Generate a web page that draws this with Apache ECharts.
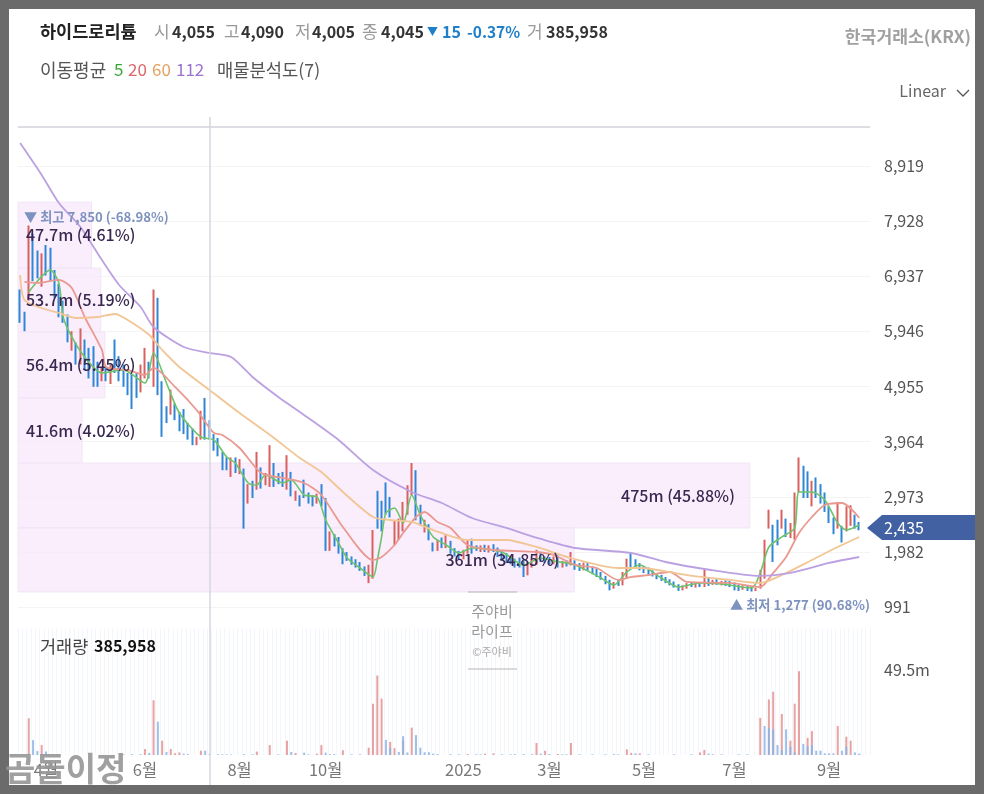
<!DOCTYPE html>
<html>
<head>
<meta charset="utf-8">
<title>하이드로리튬</title>
<style>
  html, body { margin: 0; padding: 0; background: #6b6b6b; }
  #chart { width: 984px; height: 794px; }
</style>
<script src="https://cdn.jsdelivr.net/npm/echarts@6/dist/echarts.min.js"></script>
</head>
<body>
<div id="chart"></div>
<script>
// 캔들 (2거래일 단위로 읽은 값)
var opens = [
  6600,6200,6600,7650,7300,6800,7300,7100,6950,6650,
  6350,6100,5650,5700,5450,5600,5500,5400,5300,5150,
  5250,5100,5700,5350,5200,5050,5150,5100,4900,5200,
  5350,5000,6450,4800,4500,4500,4600,4450,4300,4150,
  4100,3950,4050,4450,4250,4000,3950,3700,3580,3400,
  3600,3450,3450,2950,3200,3200,3400,3250,3200,3550,
  3300,3350,3150,3300,2950,2950,3250,3000,2950,2850,
  3150,2850,2150,2280,2150,2000,1900,1850,1800,1740,
  1680,1450,1550,2900,2600,3200,2900,2150,2350,2400,
  2700,3100,3400,2800,2350,2450,2100,2050,2150,2060,
  2150,2050,1950,1900,1980,2150,2050,2020,2080,2020,
  2040,2000,1950,1900,1820,1800,1850,1800,1600,1760,
  1800,1950,1850,1820,1800,1870,1760,1780,1750,1800,
  1720,1700,1750,1680,1620,1570,1520,1460,1340,1420,
  1400,1550,1900,1780,1720,1690,1640,1600,1570,1520,
  1490,1450,1410,1370,1310,1350,1400,1370,1410,1370,
  1500,1420,1450,1410,1440,1400,1400,1350,1330,1340,
  1320,1300,1350,1600,2450,2350,2550,2450,2550,2300,
  2250,3150,3500,3400,2950,3200,3100,2950,2750,2550,
  2450,2400,2400,2500,2650,2450
];
var highs = [
  6700,6300,7850,7700,7400,7350,7500,7450,7050,6800,
  6500,6250,5950,5750,6000,5800,5650,5680,5400,5300,
  5300,5350,5800,5500,5350,5200,5180,5200,5350,5650,
  5400,6700,6550,5050,4600,4900,4650,4500,4550,4300,
  4200,4050,4520,4750,4350,4100,4030,3780,3680,3680,
  3680,3650,3480,3200,3260,3780,3500,3400,3900,3580,
  3400,3420,3720,3420,3080,3000,3280,3050,3000,3030,
  3200,2950,2350,2300,2250,2050,1980,1900,1850,1800,
  1720,1750,2375,3080,2900,3230,2970,2550,2580,2880,
  3180,3580,3450,2830,2560,2480,2150,2200,2240,2280,
  2180,2050,2000,2020,2210,2220,2100,2100,2110,2100,
  2120,2060,2000,1960,1900,1860,1880,1830,1800,1850,
  2020,1980,1900,1890,1900,1920,1820,1830,1980,1830,
  1780,1790,1790,1720,1680,1620,1550,1480,1440,1480,
  1620,1860,1960,1850,1780,1730,1700,1650,1600,1570,
  1530,1490,1450,1400,1380,1420,1440,1440,1440,1670,
  1530,1480,1490,1460,1470,1460,1430,1390,1380,1370,
  1350,1340,1660,2200,2740,2470,2560,2740,2580,2500,
  3050,3680,3530,3430,3260,3320,3200,3050,2800,2600,
  2880,2450,2800,2820,2650,2520
];
var lows = [
  6100,5950,6500,6850,6900,6750,6950,6850,6550,6200,
  6100,5750,5600,5350,5350,5250,5100,4950,4950,5050,
  5050,5000,5200,5050,4950,4800,4550,4750,4850,5100,
  5100,4950,4800,4050,4300,4450,4350,4150,4100,4000,
  3900,3900,4000,4000,4000,3800,3700,3450,3450,3330,
  3400,3380,2400,2850,2950,3100,3120,3180,3150,3150,
  3200,3150,3100,2980,2900,2800,2950,2850,2800,2850,
  2800,2000,2000,2080,1950,1760,1820,1750,1700,1640,
  1550,1420,1500,2400,2350,2650,2600,2100,2200,2350,
  2650,3000,2550,2450,2330,2190,1990,2000,2050,2050,
  1950,1900,1850,1850,1950,1950,2000,1980,1980,1970,
  1980,1890,1850,1780,1760,1700,1700,1530,1560,1700,
  1750,1800,1780,1750,1760,1700,1700,1720,1740,1660,
  1640,1650,1640,1580,1530,1480,1400,1290,1320,1370,
  1380,1500,1700,1680,1650,1600,1570,1540,1490,1460,
  1420,1380,1340,1280,1290,1320,1350,1340,1350,1350,
  1370,1390,1390,1380,1370,1350,1290,1280,1300,1280,
  1270,1277,1320,1500,2400,1800,2100,2400,2250,2230,
  2200,3050,2950,2950,2800,2950,2850,2700,2500,2300,
  2400,2150,2350,2450,2400,2370
];
var closes = [
  6200,6000,7700,7000,7000,7100,7050,6950,6600,6300,
  6200,5800,5900,5400,5700,5350,5150,5150,5050,5250,
  5100,5300,5300,5150,5050,4900,4900,4850,5250,5500,
  5200,6500,5000,4500,4400,4750,4450,4200,4150,4050,
  3950,4000,4400,4250,4100,3900,3800,3550,3500,3600,
  3450,3580,3000,3150,3050,3650,3200,3350,3700,3250,
  3250,3250,3550,3050,3050,2850,3000,2900,2850,3000,
  2850,2150,2300,2130,2030,1800,1850,1800,1740,1680,
  1590,1680,2300,2500,2450,2750,2700,2450,2500,2800,
  3100,3450,2650,2550,2500,2250,2030,2150,2100,2230,
  2050,1950,1900,2000,2150,2050,2030,2080,2020,2040,
  2000,1950,1900,1820,1800,1760,1750,1600,1760,1810,
  1950,1850,1820,1800,1870,1740,1780,1760,1920,1720,
  1700,1760,1680,1620,1570,1520,1440,1340,1420,1400,
  1560,1820,1780,1720,1690,1640,1610,1570,1520,1490,
  1450,1410,1370,1320,1360,1400,1370,1420,1380,1620,
  1420,1450,1410,1440,1400,1380,1330,1310,1340,1310,
  1290,1320,1620,2150,2650,1900,2150,2650,2300,2450,
  2950,3600,3000,3000,3200,3000,2900,2750,2550,2350,
  2800,2200,2700,2700,2450,2435
];
var slotCount = 198;
var monthLabels = { 6: '4월', 29: '6월', 51: '8월', 71: '10월', 103: '2025', 123: '3월', 145: '5월', 166: '7월', 188: '9월' };

// 이동평균 [슬롯, 값]
var ma5 = [[2,6655],[7,7050],[9,6817],[10,6205],[12,5846],[15,5486],[19,5199],[24,5252],[29,5019],[31,5558],[34,5019],[37,4479],[42,4048],[45,3994],[48,3688],[50,3580],[53,3221],[55,3185],[57,3365],[61,3221],[63,3275],[66,3005],[69,2969],[71,2555],[74,2141],[76,1872],[79,1692],[82,1531],[83,1836],[84,2250],[85,2681],[87,2771],[89,2501],[91,3005],[93,2645],[96,2250],[99,2106],[102,1962],[105,2052],[112,1980],[117,1745],[121,1872],[124,1818],[129,1747],[135,1512],[138,1387],[141,1621],[144,1747],[149,1512],[153,1351],[158,1423],[163,1405],[170,1333],[172,1603],[174,2070],[177,2250],[180,2412],[181,3059],[184,3059],[187,2915],[190,2501],[192,2375],[195,2465]];
var ma20 = [[1,6835],[4,6817],[9,6871],[12,6727],[15,6205],[19,5612],[20,5306],[25,5252],[29,5163],[31,5289],[36,4947],[41,4533],[45,4120],[47,4084],[51,3850],[56,3401],[61,3311],[66,3221],[70,3005],[75,2430],[82,1836],[84,1890],[87,2106],[89,2321],[92,2609],[94,2699],[97,2520],[100,2412],[104,2106],[110,2016],[120,1980],[124,1926],[129,1747],[134,1692],[139,1477],[142,1531],[146,1566],[151,1620],[155,1441],[165,1423],[172,1351],[175,1603],[178,1890],[181,2321],[184,2609],[187,2825],[191,2861],[195,2592]];
var ma60 = [[0,6960],[1,6511],[5,6367],[9,6277],[13,6187],[18,6205],[22,6259],[25,6151],[30,5882],[33,5612],[37,5306],[44,4893],[51,4479],[59,4030],[65,3670],[70,3418],[75,3059],[82,2609],[86,2555],[91,2520],[96,2375],[104,2196],[113,2196],[120,2070],[128,1872],[139,1692],[144,1692],[155,1566],[165,1477],[172,1423],[178,1603],[184,1836],[190,2070],[195,2250]];
var ma112 = [[0,9334],[5,8760],[9,8255],[14,7824],[19,7230],[23,6781],[28,6385],[31,6025],[38,5666],[44,5558],[49,5486],[54,5127],[60,4767],[65,4497],[74,3994],[82,3454],[91,3059],[98,2861],[105,2591],[113,2412],[121,2214],[129,2052],[142,1962],[150,1800],[159,1674],[172,1549],[179,1603],[188,1783],[195,1890]];

// 거래량 [슬롯, 백만주]
var volRed = [[2,21.5],[5,5.8],[24,.4],[29,3.5],[31,32],[33,8.4],[35,3.5],[36,1],[37,1.5],[42,2.5],[55,2],[58,5.8],[62,8.4],[64,1.2],[69,.8],[70,5.8],[75,2.8],[81,4.3],[82,30],[83,46.5],[84,33],[86,7.7],[87,4],[89,8.4],[91,16],[104,.6],[108,.8],[110,1],[120,7],[122,2.5],[125,.6],[128,7],[141,3.3],[142,1.2],[144,1],[159,3],[158,1.5],[172,21.7],[174,32.5],[175,37],[177,24],[179,8.4],[180,30],[181,49],[183,10],[184,14],[190,17],[192,10.7],[193,8.4]];
var volBlue = [[3,8.7],[4,2.3],[6,2],[26,.5],[28,.5],[30,1.2],[32,19.5],[34,1.8],[38,.8],[39,.5],[43,2.5],[44,.6],[46,.4],[47,.4],[48,.4],[49,.3],[52,.5],[54,.4],[60,.4],[63,1.8],[66,1.4],[67,.4],[71,1.4],[72,.5],[73,.5],[77,.4],[79,.4],[85,8.8],[86,4],[88,1.8],[89,11],[90,1.5],[92,11.6],[93,4.3],[94,1.6],[95,1.6],[96,.8],[97,.6],[100,.5],[102,.4],[106,.4],[107,.4],[112,.4],[114,.4],[115,.4],[117,.5],[119,.5],[121,.8],[123,.6],[126,.4],[127,.4],[130,.4],[133,.4],[136,.4],[138,.5],[139,.4],[143,1],[146,.4],[152,.4],[156,.4],[160,.8],[161,.4],[163,.4],[167,.4],[169,.4],[173,17],[174,16],[175,15],[176,5.8],[177,3],[178,15],[179,4.8],[180,1.5],[182,6.5],[183,5.2],[184,5.8],[185,2.5],[186,2.5],[187,1],[188,1],[189,1],[191,2.5],[192,4.8],[194,1.5],[195,.8]];

// 매물분석도
var zoneLows = [7085, 5935, 4750, 3580, 2412, 1262];
var zoneHighs = [8270, 7085, 5935, 4750, 3580, 2412];
var zoneVols = [47.7, 53.7, 56.4, 41.6, 475, 361];
var zonePcts = ['4.61%', '5.19%', '5.45%', '4.02%', '45.88%', '34.85%'];

var priceTicks = { interval: 991, min: 991, max: 9621 };
var volTicks = { interval: 49.5, max: 74.25 };
var lastPrice = '2,435';

var categories = [];
for (var n = 0; n < slotCount; n++) categories.push(String(n));
var candleData = opens.map(function (o, i) { return [o, closes[i], lows[i], highs[i]]; });

var KR = '"Noto Sans CJK KR","Noto Sans",sans-serif';

function txt(x, y, text, color, size, weight, align) {
  return {
    type: 'text', x: x, y: y, z: 50, silent: true,
    style: {
      text: text, fill: color, fontFamily: KR, fontSize: size,
      fontWeight: weight || 'normal', align: align || 'left', verticalAlign: 'middle'
    }
  };
}
function seg(x1, y1, x2, y2, color, width) {
  return {
    type: 'line', z: 40, silent: true,
    shape: { x1: x1, y1: y1, x2: x2, y2: y2 },
    style: { stroke: color, lineWidth: width || 1 }
  };
}

var graphics = [
  // 흰 패널
  { type: 'rect', z: -1, silent: true, shape: { x: 9, y: 9, width: 966, height: 776 }, style: { fill: '#fff' } },
  // 헤더 1행
  txt(40, 31, '하이드로리튬', '#222', 17.5, 'bold'),
  txt(154, 32, '시', '#999', 17), txt(172, 32, '4,055', '#333', 16, 'bold'),
  txt(224, 32, '고', '#999', 17), txt(241, 32, '4,090', '#333', 16, 'bold'),
  txt(295, 32, '저', '#999', 17), txt(312, 32, '4,005', '#333', 16, 'bold'),
  txt(362, 32, '종', '#999', 17), txt(381, 32, '4,045', '#333', 16, 'bold'),
  txt(427, 32, '▼', '#1f7fc9', 11), txt(442, 32, '15', '#1f7fc9', 16, 'bold'),
  txt(467, 32, '-0.37%', '#1f7fc9', 15.5, 'bold'),
  txt(527, 32, '거', '#999', 17), txt(546, 32, '385,958', '#333', 16, 'bold'),
  // 헤더 2행
  txt(40, 70, '이동평균', '#555', 18),
  txt(114, 70, '5', '#3aa63a', 17), txt(128, 70, '20', '#d9686a', 17),
  txt(152, 70, '60', '#e3a15f', 17), txt(176, 70, '112', '#9a72cf', 17),
  txt(217, 70, '매물분석도(7)', '#555', 17.7),
  txt(971, 36, '한국거래소(KRX)', '#a0a0a0', 17.2, 'bold', 'right'),
  txt(946, 91, 'Linear', '#666', 16, 'normal', 'right'),
  { type: 'polyline', z: 40, silent: true, shape: { points: [[957, 90], [963, 96], [969, 90]] }, style: { stroke: '#555', lineWidth: 1.3, fill: 'none' } },
  // 상단선, 십자선
  seg(18, 127, 870, 127, '#dcdee4', 2),
  seg(210, 117, 210, 785, '#d4d7de', 1.5),
  // 최고/최저
  txt(24, 217, '▼ 최고 7,850 (-68.98%)', '#7d92bf', 13.2, 'bold'),
  txt(730, 605, '▲ 최저 1,277 (90.68%)', '#7d92bf', 13.2, 'bold'),
  // 가운데 워터마크
  seg(468, 592, 517, 592, '#b5b5b5', 1),
  txt(492, 611, '주야비', '#999', 15, 'normal', 'center'),
  txt(492, 631, '라이프', '#999', 15, 'normal', 'center'),
  txt(492, 652, '©주야비', '#aaa', 11, 'normal', 'center'),
  seg(468, 669, 517, 669, '#b5b5b5', 1),
  // 거래량 제목
  txt(40, 646, '거래량', '#444', 17.5), txt(94, 646, '385,958', '#111', 16, 'bold'),
  // 현재가 태그
  { type: 'polygon', z: 45, silent: true, shape: { points: [[867, 528], [882, 515], [975, 515], [975, 540], [882, 540]] }, style: { fill: '#4161a3' } },
  txt(884, 528, lastPrice, '#fff', 16),
  // 하단 워터마크
  txt(5, 768, '곰돌이정', 'rgba(150,150,150,.9)', 33, 'bold')
];

var chart = echarts.init(document.getElementById('chart'));
var option = {
  animation: false,
  backgroundColor: '#6b6b6b',
  textStyle: { fontFamily: KR },
  grid: [
    { left: 18, right: 114, top: 127, bottom: 187 },
    { left: 18, right: 114, top: 628, bottom: 39 }
  ],
  xAxis: [
    { type: 'category', gridIndex: 0, data: categories, show: false },
    {
      type: 'category', gridIndex: 1, data: categories,
      axisLine: { show: false }, axisTick: { show: false },
      axisLabel: {
        interval: 0, margin: 6, color: '#777', fontSize: 16.5,
        formatter: function (v, i) { return monthLabels[i] || ''; }
      },
      splitLine: { show: true, interval: 0, lineStyle: { color: '#f3f6fb', width: 1 } }
    },
    // 매물 막대 폭용 축
    { type: 'value', gridIndex: 0, min: 0, max: 553, show: false }
  ],
  yAxis: [
    {
      type: 'value', gridIndex: 0, position: 'right',
      min: priceTicks.min, max: priceTicks.max, interval: priceTicks.interval,
      axisLine: { show: false }, axisTick: { show: false },
      axisLabel: {
        margin: 14, color: '#555', fontSize: 16, showMaxLabel: false,
        formatter: function (v) { return v.toLocaleString('en-US'); }
      },
      splitLine: { lineStyle: { color: '#f4f4f4' } }
    },
    {
      type: 'value', gridIndex: 1, position: 'right',
      min: 0, max: volTicks.max, interval: volTicks.interval,
      axisLine: { show: false }, axisTick: { show: false },
      axisLabel: {
        margin: 14, color: '#555', fontSize: 16, showMinLabel: false, showMaxLabel: false,
        formatter: function (v) { return v + 'm'; }
      },
      splitLine: { show: false }
    }
  ],
  series: [
    {
      // 매물분석도 막대
      type: 'custom', xAxisIndex: 2, yAxisIndex: 0, z: 1, silent: true,
      data: zoneVols.map(function (v, i) { return [v, zoneLows[i], zoneHighs[i]]; }),
      renderItem: function (params, api) {
        var a = api.coord([0, api.value(2)]);
        var b = api.coord([api.value(0), api.value(1)]);
        return {
          type: 'rect',
          shape: { x: a[0], y: a[1], width: b[0] - a[0], height: b[1] - a[1] },
          style: { fill: 'rgba(248,232,252,.75)', stroke: '#f0e5f6', lineWidth: 1 }
        };
      }
    },
    {
      type: 'candlestick', xAxisIndex: 0, yAxisIndex: 0, z: 3, barWidth: 1,
      data: candleData,
      itemStyle: { color: '#d8605e', color0: '#2f86d6', borderColor: '#d8605e', borderColor0: '#2f86d6', borderWidth: 2 }
    },
    { type: 'line', xAxisIndex: 0, yAxisIndex: 0, z: 4, data: ma5, showSymbol: false, smooth: .25, lineStyle: { color: '#6bc46c', width: 1.6 } },
    { type: 'line', xAxisIndex: 0, yAxisIndex: 0, z: 4, data: ma20, showSymbol: false, smooth: .25, lineStyle: { color: '#e9998f', width: 1.8 } },
    { type: 'line', xAxisIndex: 0, yAxisIndex: 0, z: 4, data: ma60, showSymbol: false, smooth: .25, lineStyle: { color: '#f2c594', width: 1.8 } },
    { type: 'line', xAxisIndex: 0, yAxisIndex: 0, z: 4, data: ma112, showSymbol: false, smooth: .25, lineStyle: { color: '#bba0e2', width: 1.8 } },
    {
      // 매물 라벨은 캔들 위에
      type: 'custom', xAxisIndex: 2, yAxisIndex: 0, z: 6, silent: true, clip: false,
      data: zoneVols.map(function (v, i) { return [v, zoneLows[i], zoneHighs[i]]; }),
      renderItem: function (params, api) {
        var vol = api.value(0);
        var end = api.coord([vol, api.value(1)]);
        var mid = api.coord([vol, (api.value(1) + api.value(2)) / 2]);
        var wide = vol > 100;
        return {
          type: 'text',
          x: wide ? end[0] - 15 : 26,
          y: mid[1],
          style: {
            text: vol + 'm (' + zonePcts[params.dataIndex] + ')',
            fill: '#38284f', fontFamily: KR, fontSize: 16, fontWeight: 500,
            align: wide ? 'right' : 'left', verticalAlign: 'middle'
          }
        };
      }
    },
    { type: 'bar', xAxisIndex: 1, yAxisIndex: 1, data: volRed, barWidth: 2, barGap: '-100%', itemStyle: { color: '#e8a2a2' } },
    { type: 'bar', xAxisIndex: 1, yAxisIndex: 1, data: volBlue, barWidth: 2, barGap: '-100%', itemStyle: { color: 'rgba(140,180,230,.85)' } }
  ],
  graphic: graphics
};
chart.setOption(option);
window.addEventListener('resize', function () { chart.resize(); });
</script>
</body>
</html>
